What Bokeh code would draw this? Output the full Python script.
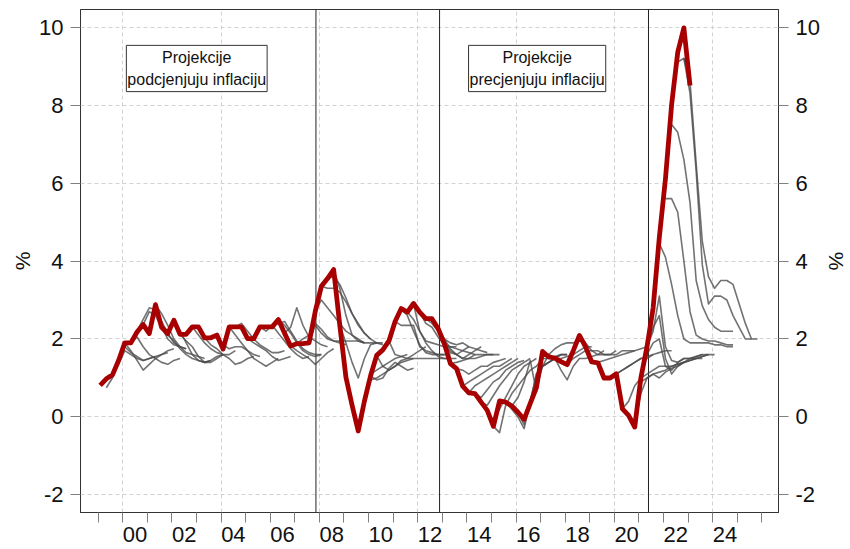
from bokeh.plotting import figure
from bokeh.models import Range1d, LinearAxis, FixedTicker, Span, Label
from bokeh.embed import file_html
from bokeh.resources import INLINE

FONT = "Liberation Sans"

# ---------------- data ----------------
# actual inflation (%), quarterly, starting 1999 Q1
actual_start = (1999, 1)
actual = [0.81, 0.98, 1.08, 1.45,
          1.90, 1.90, 2.18, 2.37,
          2.14, 2.88, 2.30, 2.14,
          2.48, 2.12, 2.12, 2.31,
          2.31, 2.03, 2.03, 2.10,
          1.74, 2.31, 2.31, 2.31,
          2.01, 2.01, 2.31, 2.31,
          2.31, 2.50, 2.15, 1.82,
          1.88, 1.88, 1.90, 2.70,
          3.35, 3.55, 3.78, 2.35,
          1.02, 0.30, -0.36, 0.40,
          1.05, 1.58, 1.72, 1.95,
          2.45, 2.78, 2.69, 2.91,
          2.69, 2.52, 2.52, 2.27,
          1.88, 1.37, 1.24, 0.79,
          0.62, 0.60, 0.38, 0.17,
          -0.24, 0.41, 0.38, 0.28,
          0.12, -0.06, 0.35, 0.75,
          1.68, 1.54, 1.51, 1.42,
          1.34, 1.70, 2.09, 1.80,
          1.41, 1.39, 1.00, 1.00,
          1.11, 0.21, 0.04, -0.26,
          1.00, 1.80, 2.80, 4.60,
          6.10, 8.00, 9.35, 9.98,
          8.50]

# projection vintages: (start year, start quarter, quarterly values)
projections = [
    (1999, 2, [0.75, 1.0, 1.35, 1.7, 1.6, 1.5, 1.45, 1.5, 1.55]),
    (1999, 4, [1.45, 1.8, 1.65, 1.55, 1.45, 1.5, 1.55, 1.6, 1.65]),
    (2000, 1, [1.9, 1.7, 1.45, 1.2, 1.35, 1.5, 1.6, 1.7, 1.75]),
    (2000, 2, [1.9, 2.05, 1.8, 1.6, 1.5, 1.4, 1.35, 1.45, 1.5]),
    (2000, 3, [2.2, 2.5, 2.8, 2.75, 2.45, 2.15, 1.9, 1.8, 1.75]),
    (2000, 4, [2.37, 2.7, 2.6, 2.3, 2.0, 1.85, 1.8, 1.75]),
    (2001, 2, [2.88, 2.65, 2.35, 2.0, 1.8, 1.65, 1.6, 1.55, 1.5]),
    (2001, 3, [2.3, 2.1, 1.95, 1.75, 1.6, 1.5, 1.45, 1.4, 1.45]),
    (2002, 1, [2.48, 2.2, 1.9, 1.6, 1.45, 1.4, 1.45, 1.55, 1.6]),
    (2002, 2, [2.12, 1.95, 1.8, 1.55, 1.4, 1.4, 1.5, 1.6]),
    (2002, 4, [2.31, 2.1, 1.9, 1.75, 1.65, 1.6, 1.6, 1.7]),
    (2003, 2, [2.03, 1.85, 1.75, 1.6, 1.5, 1.35, 1.4, 1.5, 1.55]),
    (2003, 4, [2.1, 1.85, 1.75, 1.8, 1.8, 1.7, 1.6, 1.55]),
    (2004, 2, [2.31, 2.1, 1.9, 1.7, 1.5, 1.4, 1.3, 1.4, 1.5]),
    (2004, 3, [2.31, 2.4, 2.2, 2.0, 1.85, 1.75, 1.65, 1.65, 1.7]),
    (2005, 1, [2.01, 1.9, 1.8, 1.7, 1.55, 1.45, 1.5, 1.55]),
    (2005, 3, [2.31, 2.2, 2.35, 2.15, 1.95, 1.75, 1.6, 1.5, 1.55]),
    (2006, 1, [2.31, 2.4, 2.45, 2.2, 1.95, 1.75, 1.65, 1.6, 1.6]),
    (2006, 2, [2.5, 2.35, 2.15, 1.9, 1.7, 1.6, 1.55, 1.6]),
    (2006, 3, [2.15, 2.3, 2.8, 2.35, 2.05, 1.95, 1.85, 1.8]),
    (2006, 4, [1.82, 1.7, 1.6, 1.5, 1.35, 1.5, 1.65, 1.75]),
    (2007, 1, [1.88, 2.0, 2.1, 2.4, 2.25, 2.05, 1.95, 1.9, 1.85]),
    (2007, 3, [1.9, 2.35, 2.15, 2.0, 1.95, 1.95, 1.95, 1.95, 1.95, 1.9]),
    (2007, 4, [2.7, 3.0, 2.8, 2.6, 2.4, 2.2, 2.1, 2.0, 1.9]),
    (2008, 1, [3.35, 3.3, 3.3, 3.2, 2.95, 2.65, 2.4, 2.15, 2.0]),
    (2008, 2, [3.55, 3.6, 3.4, 3.05, 2.65, 2.35, 2.15, 2.0, 1.9]),
    (2008, 3, [3.78, 3.3, 2.6, 2.1, 1.95, 1.9, 1.9, 1.9, 1.85]),
    (2008, 4, [2.35, 1.9, 1.4, 1.0, 1.5, 1.85, 1.9, 1.9]),
    (2009, 3, [-0.36, 0.5, 1.1, 1.2, 1.3, 1.4, 1.5, 1.55, 1.6]),
    (2009, 4, [0.4, 0.95, 1.0, 1.1, 1.2, 1.3, 1.4, 1.45, 1.5]),
    (2010, 1, [1.05, 0.95, 1.0, 1.25, 1.4, 1.3, 1.2, 1.25]),
    (2010, 2, [1.58, 1.3, 1.2, 1.3, 1.45, 1.5, 1.6, 1.7, 1.8]),
    (2010, 4, [1.95, 1.6, 1.55, 1.5, 1.5, 1.5, 1.5, 1.5, 1.5, 1.5, 1.5]),
    (2011, 1, [2.45, 2.35, 2.35, 2.35, 1.8, 1.7, 1.65, 1.6, 1.6]),
    (2011, 2, [2.78, 2.6, 2.2, 1.85, 1.65, 1.6, 1.6, 1.6, 1.6]),
    (2011, 3, [2.69, 2.5, 2.2, 1.9, 1.7, 1.55, 1.5, 1.5, 1.5]),
    (2011, 4, [2.91, 2.2, 1.95, 1.9, 1.85, 1.8, 1.8, 1.8]),
    (2012, 1, [2.69, 2.4, 2.3, 2.05, 1.85, 1.65, 1.6, 1.7, 1.8]),
    (2012, 2, [2.52, 2.4, 2.2, 1.9, 1.7, 1.6, 1.5, 1.5, 1.6]),
    (2012, 3, [2.52, 2.3, 2.0, 1.75, 1.6, 1.5, 1.6, 1.7, 1.8]),
    (2012, 4, [2.27, 2.0, 1.9, 1.85, 1.9, 1.8, 1.75, 1.7, 1.65]),
    (2013, 1, [1.88, 1.8, 1.75, 1.7, 1.65, 1.6, 1.6, 1.6, 1.6]),
    (2013, 2, [1.37, 1.4, 1.45, 1.5, 1.5, 1.55, 1.6, 1.6, 1.6]),
    (2013, 3, [1.24, 1.2, 1.1, 1.2, 1.3, 1.3, 1.4, 1.45, 1.5]),
    (2013, 4, [0.79, 0.9, 1.0, 1.1, 1.2, 1.3, 1.3, 1.4, 1.5]),
    (2014, 1, [0.62, 0.8, 0.9, 1.0, 1.1, 1.2, 1.3, 1.4, 1.5]),
    (2014, 2, [0.6, 0.5, 0.7, 0.9, 1.0, 1.2, 1.3, 1.4, 1.45]),
    (2014, 3, [0.38, 0.3, 0.55, 0.8, 1.0, 1.2, 1.3, 1.4, 1.5]),
    (2014, 4, [0.17, -0.1, 0.2, 0.5, 0.8, 1.1, 1.3, 1.4, 1.5]),
    (2015, 1, [-0.24, -0.4, 0.3, 0.6, 0.8, 1.0, 1.2, 1.3, 1.5]),
    (2015, 3, [0.38, 0.2, 0.0, -0.3, 0.4, 1.1, 1.3, 1.4, 1.5]),
    (2015, 4, [0.28, 0.5, 0.9, 1.45, 0.64, 1.5, 1.5, 1.55, 1.6]),
    (2016, 1, [0.12, -0.2, 0.4, 1.1, 1.3, 1.4, 1.5, 1.6, 1.6]),
    (2016, 2, [-0.06, 0.3, 0.9, 1.3, 1.4, 1.5, 1.6, 1.6]),
    (2016, 4, [0.75, 1.3, 1.6, 1.75, 1.85, 1.9, 1.9, 1.95]),
    (2017, 1, [1.68, 1.6, 1.5, 1.5, 1.55, 1.6, 1.7, 1.8, 1.8]),
    (2017, 3, [1.51, 1.2, 0.95, 1.3, 1.5, 1.5, 1.55, 1.6, 1.7]),
    (2018, 1, [1.34, 1.5, 1.6, 1.7, 1.7, 1.7, 1.6, 1.6, 1.7]),
    (2018, 3, [2.09, 1.9, 1.7, 1.6, 1.6, 1.6, 1.6, 1.7, 1.7, 1.7]),
    (2019, 1, [1.41, 1.4, 1.45, 1.5, 1.55, 1.6, 1.65, 1.7, 1.75, 1.8]),
    (2019, 3, [1.0, 1.0, 1.1, 1.2, 1.3, 1.4, 1.5, 1.5, 1.6]),
    (2020, 1, [1.11, 1.2, 1.3, 1.4, 1.5, 1.55, 1.6, 1.65, 1.7, 1.7]),
    (2020, 2, [0.21, 0.4, 0.8, 1.0, 1.1, 1.2, 1.3, 1.3, 1.3, 1.35, 1.4]),
    (2020, 3, [0.04, -0.1, 0.6, 1.0, 1.1, 1.15, 1.2, 1.3, 1.35, 1.4, 1.45, 1.5, 1.5]),
    (2020, 4, [-0.26, 0.9, 1.0, 1.1, 1.0, 1.15, 1.25, 1.3, 1.4, 1.45, 1.5, 1.55, 1.6]),
    (2021, 1, [1.0, 1.6, 1.9, 2.0, 1.3, 1.2, 1.4, 1.5, 1.5, 1.55, 1.6]),
    (2021, 2, [1.8, 2.3, 2.6, 1.5, 1.1, 1.3, 1.4, 1.5, 1.5, 1.55, 1.6]),
    (2021, 2, [1.8, 2.2, 3.1, 1.8, 1.45, 1.4, 1.5, 1.5, 1.55, 1.6, 1.6, 1.6]),
    (2021, 4, [4.45, 4.1, 3.4, 2.6, 2.0, 1.9, 1.9, 1.9, 1.9, 1.85, 1.85, 1.8, 1.8]),
    (2022, 1, [5.6, 5.6, 5.25, 4.0, 2.7, 2.1, 2.0, 1.95, 1.95, 1.9, 1.85, 1.85]),
    (2022, 2, [7.5, 7.3, 6.6, 5.5, 3.5, 2.85, 2.5, 2.3, 2.2, 2.2, 2.2]),
    (2022, 3, [9.1, 9.2, 8.3, 6.3, 3.9, 2.9, 3.1, 3.1, 3.0, 2.6, 2.3, 2.0, 2.0]),
    (2022, 4, [9.2, 8.6, 6.5, 4.5, 3.6, 3.3, 3.5, 3.5, 3.4, 2.9, 2.4, 2.0, 2.0]),
]

regime_breaks = [2007.86, 2012.89, 2021.39]
year_ticks = list(range(1999, 2027))
label_years = list(range(2000, 2025, 2))
grid_years = list(range(2000, 2025, 4))
y_ticks = [-2, 0, 2, 4, 6, 8, 10]
box_texts = ["Projekcije\npodcjenjuju inflaciju", "Projekcije\nprecjenjuju inflaciju"]
box_x = [2003.01, 2016.86]
box_top = 9.53


def qx(year, q, k=0):
    return year + (q - 1 + k) * 0.25 + 0.08


# ---------------- figure ----------------
p = figure(width=850, height=549, output_backend="svg", toolbar_location=None,
           x_range=Range1d(1998.28, 2026.68), y_range=Range1d(-2.45, 10.45),
           min_border_top=9, min_border_left=80, min_border_right=68, min_border_bottom=37,
           background_fill_color="white", border_fill_color="white")
p.outline_line_color = "#333333"
p.outline_line_width = 1

# grids
p.xgrid.ticker = FixedTicker(ticks=grid_years)
p.ygrid.ticker = FixedTicker(ticks=y_ticks)
for g in (p.xgrid[0], p.ygrid[0]):
    g.grid_line_color = "#d2d2d2"
    g.grid_line_dash = "4 3"
    g.grid_line_width = 1

# x axis: labels at mid-year, tick marks at year boundaries
xa = p.xaxis[0]
label_pos = [y + 0.5 for y in label_years]
xa.ticker = FixedTicker(ticks=label_pos, minor_ticks=year_ticks)
xa.major_label_overrides = {pos: str(y)[2:] for pos, y in zip(label_pos, label_years)}
xa.major_tick_out = 10
xa.major_tick_in = 0
xa.major_tick_line_alpha = 0
xa.minor_tick_out = 10
xa.minor_tick_in = 0
xa.minor_tick_line_color = "#808080"
xa.minor_tick_line_width = 1
xa.axis_line_color = "#333333"
xa.major_label_standoff = 4
xa.major_label_text_font = FONT
xa.major_label_text_font_size = "22px"
xa.major_label_text_color = "#111111"

# y axes
ya = p.yaxis[0]
yr = LinearAxis()
p.add_layout(yr, "right")
for ax in (ya, yr):
    ax.ticker = FixedTicker(ticks=y_ticks)
    ax.major_label_overrides = {t: str(t) for t in y_ticks}
    ax.major_tick_out = 10
    ax.major_tick_in = 0
    ax.minor_tick_out = 0
    ax.minor_tick_in = 0
    ax.major_tick_line_color = "#808080"
    ax.axis_line_color = "#333333"
    ax.major_label_standoff = 7
    ax.major_label_text_font = FONT
    ax.major_label_text_font_size = "22px"
    ax.major_label_text_color = "#111111"
    ax.axis_label = "%"
    ax.axis_label_text_font = FONT
    ax.axis_label_text_font_size = "21px"
    ax.axis_label_text_font_style = "normal"
    ax.axis_label_text_color = "#111111"
    ax.axis_label_standoff = 2

# regime break lines
for xb in regime_breaks:
    p.add_layout(Span(location=xb, dimension="height", line_color="#222222",
                      line_width=1, level="underlay"))

# projections
for (yy, qq, vals) in projections:
    xs = [qx(yy, qq, k) for k in range(len(vals))]
    p.line(xs, vals, line_color="#4a4a4a", line_alpha=0.78, line_width=1.6,
           line_join="round")

# actual inflation
ax_x = [qx(actual_start[0], actual_start[1], k) for k in range(len(actual))]
p.line(ax_x, actual, line_color="#a80000", line_width=4.8, line_join="round", line_cap="butt")

# annotation boxes
for txt, bx in zip(box_texts, box_x):
    p.add_layout(Label(x=bx, y=box_top, text=txt, text_align="center", text_baseline="top",
                       text_font=FONT, text_font_size="16px", text_color="#111111",
                       border_line_color="#333333", border_line_width=1,
                       background_fill_color="white", padding=(1, 4),
                       text_line_height=1.25))

open("out.html", "w").write(file_html(p, INLINE))
